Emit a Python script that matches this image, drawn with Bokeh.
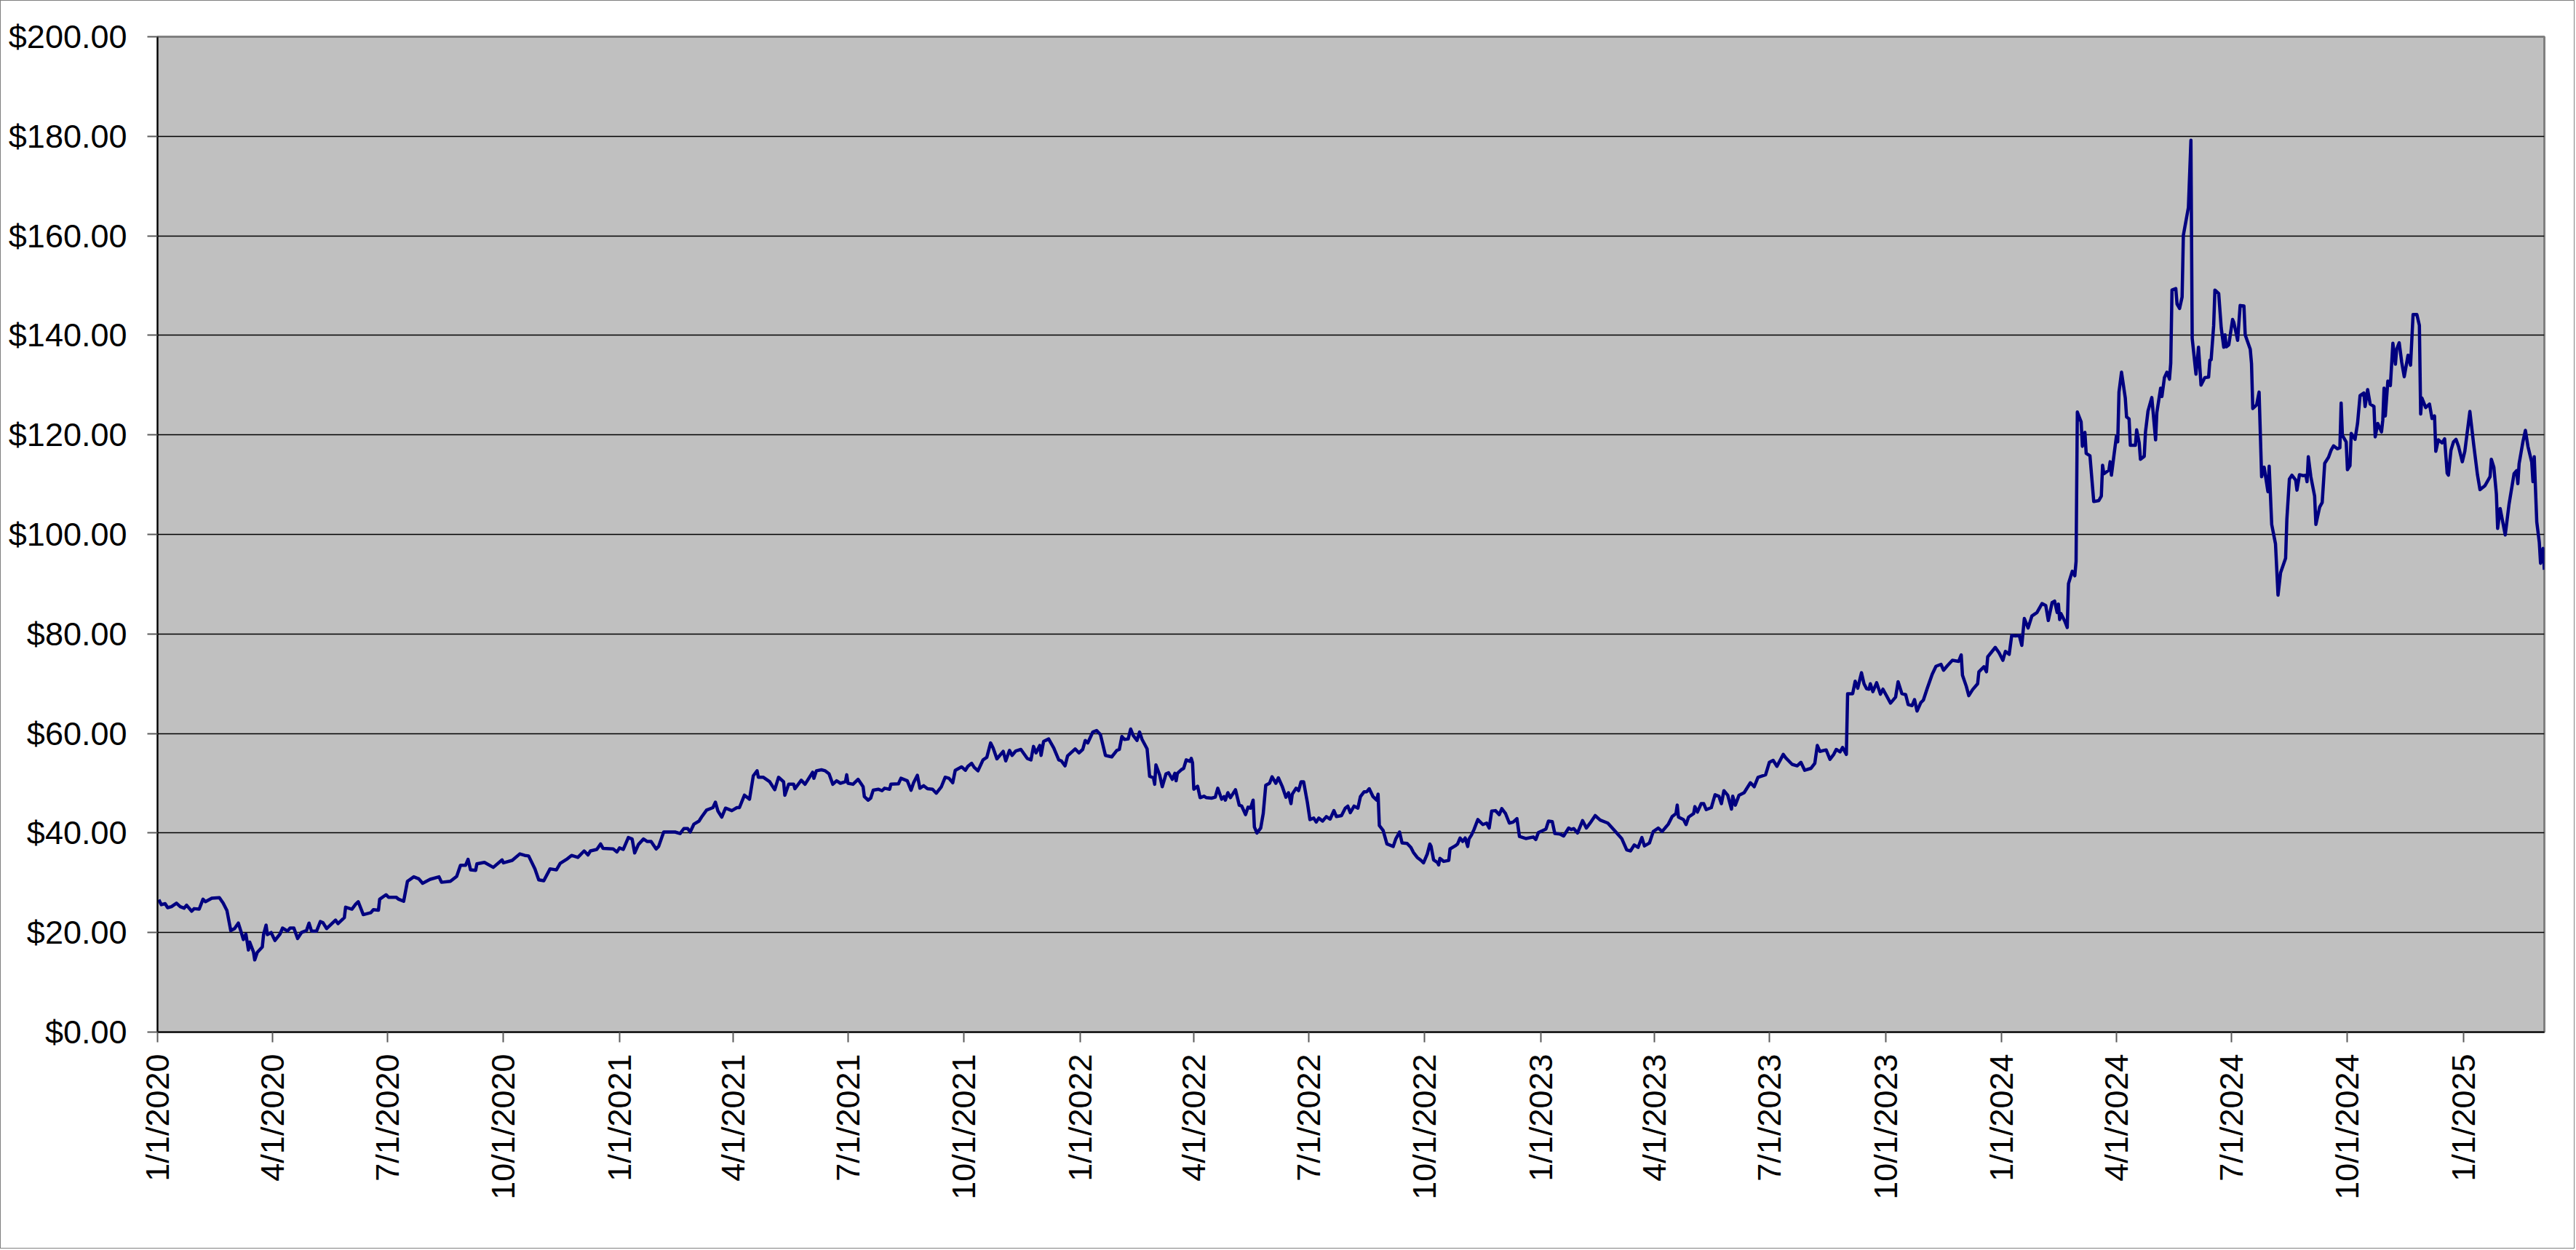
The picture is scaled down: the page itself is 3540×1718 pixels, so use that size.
import math
import pandas as pd
from bokeh.plotting import figure
from bokeh.models import Range1d, FixedTicker, CustomJSTickFormatter, ColumnDataSource
from bokeh.embed import file_html
from bokeh.resources import INLINE

start_date = "2020-01-01"

# trading-day offsets (days since start_date) and closing prices
days_2020 = [1, 3, 6, 8, 11, 15, 18, 21, 23, 27, 29, 33, 36, 38, 43, 49, 52, 55, 58, 61,
             64, 66, 68, 70, 72, 73, 76, 77, 79, 83, 84, 86, 87, 90, 93, 97, 99, 103, 105, 108,
             111, 114, 118, 120, 122, 126, 129, 131, 134, 141, 143, 148, 149, 154, 157, 159, 163, 169, 171, 175,
             176, 181, 183, 189, 191, 195, 198, 203, 207, 210, 216, 223, 225, 232, 237, 240, 244, 246, 248, 252,
             253, 259, 266, 273, 274, 281, 287, 291, 294, 299, 302, 306, 311, 316, 319, 324, 328, 333, 338, 341,
             343, 348, 351, 353, 361, 364]
price_2020 = [26.6, 25.6, 25.8, 25.0, 25.2, 25.9, 25.2, 24.9, 25.5, 24.3, 24.8, 24.7, 26.7, 26.2, 26.9, 27.0, 25.9, 24.4, 20.4, 20.8,
              21.9, 20.3, 18.6, 19.7, 16.5, 18.1, 16.1, 14.5, 16.0, 17.1, 19.6, 21.5, 19.6, 20.0, 18.4, 19.7, 20.9, 20.3, 20.9, 20.9,
              18.8, 20.0, 20.4, 21.9, 20.3, 20.3, 22.2, 22.0, 20.8, 22.5, 21.8, 23.0, 25.1, 24.7, 25.7, 26.2, 23.6, 24.0, 24.6, 24.5,
              26.7, 27.6, 27.1, 27.1, 26.7, 26.3, 30.3, 31.2, 30.8, 29.9, 30.7, 31.2, 30.1, 30.3, 31.3, 33.5, 33.5, 34.7, 32.6, 32.5,
              33.8, 34.1, 33.1, 34.6, 34.0, 34.5, 35.8, 35.5, 35.4, 32.8, 30.6, 30.4, 32.8, 32.6, 33.9, 34.7, 35.5, 35.1, 36.4, 35.6,
              36.4, 36.7, 37.8, 36.9, 36.8, 36.2]

days_2021 = [366, 369, 373, 376, 378, 381, 385, 388, 391, 395, 397, 401, 405, 410, 414, 417, 420, 422, 425, 429,
             431, 435, 440, 442, 444, 447, 450, 455, 459, 461, 465, 469, 472, 475, 476, 480, 485, 489, 492, 496,
             497, 500, 504, 505, 510, 513, 519, 520, 522, 526, 529, 532, 535, 538, 541, 545, 546, 547, 551, 555,
             559, 560, 563, 565, 567, 571, 574, 576, 580, 581, 587, 589, 594, 597, 599, 602, 604, 607, 610, 614,
             617, 621, 624, 627, 630, 632, 637, 640, 642, 645, 647, 650, 654, 657, 660, 662, 665, 670, 672, 675,
             677, 680, 684, 689, 692, 694, 696, 699, 700, 702, 706, 710, 714, 716, 719, 721, 727, 730]
price_2021 = [37.0, 36.7, 39.1, 38.8, 36.0, 37.7, 38.8, 38.3, 38.3, 36.8, 37.3, 40.2, 40.2, 40.2, 39.9, 40.9, 40.9, 40.2, 41.8, 42.4,
              43.2, 44.6, 45.1, 46.2, 44.4, 43.2, 45.0, 44.5, 45.1, 45.1, 47.6, 46.8, 51.5, 52.5, 51.2, 51.2, 50.3, 48.7, 51.2, 50.3,
              47.6, 49.8, 49.8, 48.9, 50.6, 49.8, 52.2, 51.0, 52.5, 52.7, 52.5, 51.9, 49.8, 50.5, 50.0, 50.3, 51.7, 50.0, 49.8, 50.8,
              49.3, 47.3, 46.6, 47.0, 48.6, 48.8, 48.5, 49.0, 48.8, 49.8, 49.9, 51.0, 50.5, 48.6, 50.1, 51.6, 49.0, 49.5, 48.9, 48.8,
              48.0, 49.3, 51.2, 51.0, 50.1, 52.6, 53.3, 52.6, 53.4, 54.0, 53.2, 52.5, 54.7, 55.2, 58.1, 57.1, 54.9, 56.4, 54.5, 56.6,
              55.6, 56.5, 56.8, 55.0, 54.7, 57.4, 56.1, 57.6, 55.6, 58.4, 58.9, 57.1, 54.7, 54.5, 53.5, 55.5, 56.9, 56.1]

days_2022 = [733, 735, 737, 741, 744, 747, 751, 756, 760, 762, 764, 766, 769, 771, 773, 776, 778, 780, 784, 786,
             789, 790, 791, 794, 796, 799, 801, 804, 806, 807, 808, 811, 813, 815, 818, 819, 820, 821, 824, 826,
             829, 831, 835, 838, 840, 843, 845, 846, 848, 850, 854, 857, 859, 862, 864, 866, 868, 869, 871, 874,
             876, 878, 881, 883, 886, 888, 891, 894, 896, 898, 899, 902, 904, 906, 908, 911, 913, 916, 918, 920,
             923, 926, 929, 932, 934, 938, 941, 943, 945, 948, 951, 953, 956, 958, 960, 963, 966, 967, 968, 971,
             974, 979, 981, 984, 986, 990, 993, 995, 998, 1001, 1003, 1006, 1008, 1009, 1011, 1014, 1015, 1016, 1019, 1023,
             1024, 1028, 1030, 1032, 1034, 1036, 1038, 1039, 1041, 1043, 1046, 1050, 1053, 1055, 1057, 1060, 1063, 1065, 1068, 1071,
             1074, 1077, 1079, 1084, 1090]
price_2022 = [56.8, 58.6, 58.1, 60.3, 60.6, 59.8, 55.6, 55.3, 56.6, 56.8, 59.4, 58.8, 58.9, 60.9, 59.6, 58.6, 60.3, 58.8, 56.9, 51.4,
              51.1, 49.8, 53.7, 51.6, 49.3, 51.9, 52.1, 50.8, 52.0, 50.5, 52.0, 52.7, 53.0, 54.7, 54.4, 55.0, 54.1, 48.8, 49.4, 47.1,
              47.4, 47.1, 47.0, 47.2, 49.0, 46.8, 47.3, 46.6, 48.1, 47.1, 48.7, 45.6, 45.4, 43.7, 45.2, 45.0, 46.6, 41.2, 40.0, 41.0,
              43.9, 49.6, 50.0, 51.3, 50.0, 51.1, 49.4, 47.2, 48.1, 45.9, 47.8, 49.0, 48.5, 50.3, 50.3, 46.1, 42.7, 43.0, 42.2, 43.0,
              42.4, 43.3, 42.8, 44.5, 43.3, 43.5, 45.0, 45.4, 44.1, 45.4, 45.0, 47.3, 48.3, 48.3, 48.9, 47.3, 46.6, 47.8, 41.5, 40.5,
              37.8, 37.3, 38.8, 40.2, 38.0, 37.9, 37.1, 36.1, 35.1, 34.5, 34.0, 35.8, 37.8, 37.3, 34.6, 34.1, 33.6, 34.9, 34.3, 34.5,
              36.8, 37.4, 37.8, 39.0, 38.3, 39.0, 37.3, 38.8, 39.6, 40.7, 42.7, 41.7, 42.0, 41.0, 44.4, 44.5, 43.7, 44.9, 43.9, 42.0,
              42.2, 42.9, 39.3, 38.9, 39.2]

days_2023 = [1092, 1094, 1100, 1102, 1105, 1107, 1111, 1114, 1118, 1120, 1122, 1125, 1129, 1132, 1135, 1139, 1143, 1149, 1155, 1160,
             1164, 1167, 1170, 1173, 1176, 1178, 1182, 1185, 1189, 1192, 1197, 1200, 1203, 1204, 1205, 1209, 1211, 1213, 1217, 1218,
             1220, 1223, 1225, 1227, 1231, 1234, 1237, 1239, 1241, 1244, 1247, 1248, 1250, 1253, 1257, 1262, 1265, 1268, 1274, 1277,
             1280, 1283, 1288, 1290, 1295, 1299, 1302, 1305, 1310, 1313, 1315, 1317, 1322, 1325, 1328, 1330, 1333, 1335, 1338, 1339,
             1343, 1345, 1347, 1350, 1352, 1354, 1356, 1357, 1359, 1362, 1365, 1367, 1373, 1377, 1379, 1382, 1385, 1387, 1390, 1392,
             1394, 1397, 1399, 1402, 1406, 1409, 1413, 1415, 1418, 1422, 1427, 1429, 1430, 1433, 1435, 1438, 1442, 1443, 1447, 1449,
             1450, 1456, 1459]
price_2023 = [38.7, 40.1, 40.8, 42.4, 42.3, 39.9, 39.8, 39.4, 41.0, 40.7, 40.9, 40.0, 42.5, 41.0, 42.0, 43.5, 42.6, 42.0, 40.3, 38.9,
              36.6, 36.4, 37.6, 37.1, 39.1, 37.4, 38.0, 40.3, 41.0, 40.3, 41.8, 43.3, 43.9, 45.6, 43.2, 42.7, 41.7, 43.2, 43.9, 45.3,
              44.2, 45.9, 45.9, 44.7, 45.1, 47.7, 47.4, 45.9, 48.5, 47.6, 44.8, 47.4, 45.6, 47.6, 48.1, 50.1, 49.3, 51.2, 51.7, 54.2,
              54.6, 53.4, 55.8, 55.1, 53.8, 53.5, 54.2, 52.6, 53.0, 54.0, 57.6, 56.4, 56.7, 54.8, 55.8, 56.8, 56.3, 57.2, 55.8, 68.0,
              68.0, 70.5, 69.1, 72.2, 70.0, 69.0, 68.9, 70.0, 68.4, 70.2, 67.9, 68.9, 66.1, 67.3, 70.4, 68.0, 67.8, 65.8, 65.6, 66.8,
              64.5, 66.2, 66.7, 69.0, 71.9, 73.5, 73.9, 72.7, 73.6, 74.7, 74.5, 75.8, 71.7, 69.5, 67.6, 68.8, 70.0, 72.4, 73.4, 72.4,
              75.4, 77.3, 76.2]

days_2024 = [1462, 1464, 1467, 1469, 1472, 1475, 1477, 1479, 1482, 1485, 1489, 1493, 1496, 1498, 1501, 1503, 1505, 1506, 1507, 1508,
             1511, 1513, 1514, 1517, 1519, 1520, 1521, 1524, 1525, 1527, 1528, 1531, 1534, 1538, 1540, 1541, 1542, 1546, 1547, 1548,
             1552, 1553, 1554, 1556, 1559, 1560, 1562, 1563, 1567, 1568, 1570, 1571, 1574, 1575, 1577, 1580, 1583, 1584, 1587, 1588,
             1590, 1592, 1594, 1595, 1596, 1599, 1600, 1602, 1604, 1605, 1609, 1611, 1612, 1615, 1617, 1619, 1622, 1625, 1626, 1627,
             1629, 1630, 1633, 1635, 1637, 1638, 1639, 1641, 1644, 1645, 1648, 1650, 1653, 1654, 1658, 1659, 1660, 1663, 1665, 1667,
             1669, 1672, 1673, 1675, 1678, 1680, 1682, 1686, 1687, 1689, 1691, 1694, 1695, 1697, 1700, 1702, 1703, 1704, 1706, 1709,
             1710, 1713, 1715, 1717, 1720, 1722, 1724, 1727, 1729, 1730, 1731, 1734, 1735, 1737, 1738, 1741, 1743, 1745, 1748, 1749,
             1751, 1753, 1756, 1757, 1759, 1762, 1763, 1764, 1765, 1767, 1769, 1771, 1773, 1774, 1776, 1778, 1780, 1783, 1785, 1787,
             1790, 1792, 1793, 1794, 1797, 1800, 1802, 1804, 1805, 1807, 1810, 1812, 1814, 1815, 1817, 1819, 1821, 1823, 1826]
price_2024 = [74.7, 76.5, 75.9, 79.7, 79.6, 79.7, 77.7, 83.1, 81.2, 83.6, 84.3, 86.1, 85.7, 82.7, 86.3, 86.6, 84.3, 86.0, 82.9, 84.1,
              82.6, 81.3, 90.1, 92.6, 91.7, 94.6, 124.6, 122.6, 117.7, 120.5, 116.3, 115.8, 106.6, 106.8, 107.7, 113.9, 112.2, 112.9, 114.6, 111.9,
              119.8, 118.6, 128.6, 132.6, 127.4, 123.6, 123.2, 117.9, 117.9, 121.0, 118.4, 115.1, 115.7, 120.6, 124.8, 127.5, 119.0, 124.5, 129.4, 127.7,
              131.5, 132.6, 131.2, 134.4, 149.1, 149.4, 146.3, 145.4, 147.7, 160.1, 165.7, 179.2, 139.4, 132.2, 137.6, 130.0, 131.5, 131.6, 135.0, 135.1,
              141.9, 149.1, 148.4, 141.5, 137.6, 140.1, 137.7, 138.1, 143.2, 142.6, 139.0, 146.0, 145.9, 140.1, 137.2, 134.3, 125.3, 126.0, 128.6, 111.6,
              113.5, 108.6, 113.7, 102.0, 98.1, 87.8, 92.3, 95.2, 103.0, 111.1, 111.9, 110.9, 108.9, 112.0, 111.8, 111.9, 110.6, 115.6, 111.6, 107.7,
              102.0, 105.5, 106.4, 114.3, 115.5, 116.9, 117.8, 117.2, 117.4, 126.4, 119.9, 118.6, 113.0, 113.8, 120.3, 119.1, 122.3, 127.9, 128.4, 125.7,
              129.1, 126.2, 125.7, 119.6, 122.3, 120.6, 123.0, 129.4, 123.8, 130.8, 129.9, 138.4, 134.2, 137.2, 138.5, 134.6, 131.7, 136.0, 134.0, 144.2,
              144.2, 142.0, 124.2, 127.4, 125.5, 126.2, 123.3, 123.8, 116.7, 119.0, 118.4, 119.2, 112.3, 111.9, 116.9, 118.6, 119.1, 117.7, 114.6]

days_2025 = [1828, 1832, 1835, 1838, 1840, 1844, 1848, 1849, 1851, 1853, 1854, 1856, 1860, 1863, 1867, 1869, 1870, 1871, 1874, 1876,
             1878, 1881, 1882, 1883, 1885, 1887, 1888, 1890, 1891]
price_2025 = [116.7, 124.7, 118.1, 112.0, 109.0, 109.8, 111.6, 115.1, 113.5, 108.1, 101.2, 105.2, 99.9, 106.0, 112.2, 112.8, 110.2, 114.2, 118.6, 120.9,
              117.7, 114.5, 110.6, 115.6, 102.5, 98.4, 94.2, 97.2, 92.9]

x_tick_dates = ["2020-01-01", "2020-04-01", "2020-07-01", "2020-10-01",
                "2021-01-01", "2021-04-01", "2021-07-01", "2021-10-01",
                "2022-01-01", "2022-04-01", "2022-07-01", "2022-10-01",
                "2023-01-01", "2023-04-01", "2023-07-01", "2023-10-01",
                "2024-01-01", "2024-04-01", "2024-07-01", "2024-10-01",
                "2025-01-01"]
x_tick_labels = ["1/1/2020", "4/1/2020", "7/1/2020", "10/1/2020",
                 "1/1/2021", "4/1/2021", "7/1/2021", "10/1/2021",
                 "1/1/2022", "4/1/2022", "7/1/2022", "10/1/2022",
                 "1/1/2023", "4/1/2023", "7/1/2023", "10/1/2023",
                 "1/1/2024", "4/1/2024", "7/1/2024", "10/1/2024",
                 "1/1/2025"]
y_ticks = [0, 20, 40, 60, 80, 100, 120, 140, 160, 180, 200]
y_tick_labels = ["$0.00", "$20.00", "$40.00", "$60.00", "$80.00", "$100.00",
                 "$120.00", "$140.00", "$160.00", "$180.00", "$200.00"]

days = days_2020 + days_2021 + days_2022 + days_2023 + days_2024 + days_2025
prices = price_2020 + price_2021 + price_2022 + price_2023 + price_2024 + price_2025

t0 = pd.Timestamp(start_date)
dates = [t0 + pd.Timedelta(days=d) for d in days]
epoch = pd.Timestamp("1970-01-01")
tick_ms = [float((pd.Timestamp(d) - epoch) / pd.Timedelta(milliseconds=1)) for d in x_tick_dates]

source = ColumnDataSource(data=dict(date=[d.to_pydatetime() for d in dates], price=prices))

FONT = "Liberation Sans"

p = figure(width=3538, height=1716, x_axis_type="datetime",
           x_range=Range1d(start=t0.to_pydatetime(), end=max(dates).to_pydatetime()),
           y_range=Range1d(start=y_ticks[0], end=y_ticks[-1]),
           output_backend="svg", toolbar_location=None)
p.styles = {"border": "1px solid #7f7f7f"}

p.min_border_left = 215
p.min_border_top = 49
p.min_border_right = 43
p.min_border_bottom = 299

p.background_fill_color = "#C0C0C0"
p.border_fill_color = "#FFFFFF"
p.outline_line_color = "#808080"
p.outline_line_width = 3

p.line(x="date", y="price", source=source, line_color="#000080", line_width=4.5,
       line_join="round")

# x axis
xa = p.xaxis[0]
xa.ticker = FixedTicker(ticks=tick_ms, minor_ticks=[])
xa.formatter = CustomJSTickFormatter(args=dict(tick_vals=tick_ms, tick_texts=x_tick_labels), code="""
for (let i = 0; i < tick_vals.length; i++) {
  if (Math.abs(tick_vals[i] - tick) < 43200000) { return tick_texts[i]; }
}
return "";
""")
xa.major_label_orientation = math.pi / 2
xa.major_label_text_font = FONT
xa.major_label_text_font_size = "45px"
xa.major_label_text_color = "#000000"
xa.major_label_standoff = 16
xa.major_tick_out = 14
xa.major_tick_in = 0
xa.minor_tick_line_color = None
xa.major_tick_line_color = "#5a5a5a"
xa.major_tick_line_width = 2
xa.axis_line_color = "#000000"
xa.axis_line_width = 2

# y axis
ya = p.yaxis[0]
ya.ticker = FixedTicker(ticks=y_ticks, minor_ticks=[])
ya.formatter = CustomJSTickFormatter(args=dict(tick_vals=y_ticks, tick_texts=y_tick_labels), code="""
for (let i = 0; i < tick_vals.length; i++) {
  if (Math.abs(tick_vals[i] - tick) < 1e-6) { return tick_texts[i]; }
}
return "";
""")
ya.major_label_text_font = FONT
ya.major_label_text_font_size = "45px"
ya.major_label_text_color = "#000000"
ya.major_label_standoff = 28
ya.major_tick_out = 14
ya.major_tick_in = 0
ya.minor_tick_line_color = None
ya.major_tick_line_color = "#5a5a5a"
ya.major_tick_line_width = 2
ya.axis_line_color = "#000000"
ya.axis_line_width = 2

p.xgrid.grid_line_color = None
p.ygrid.grid_line_color = "#000000"
p.ygrid.grid_line_width = 1.5

open("out.html", "w").write(file_html(p, INLINE))
